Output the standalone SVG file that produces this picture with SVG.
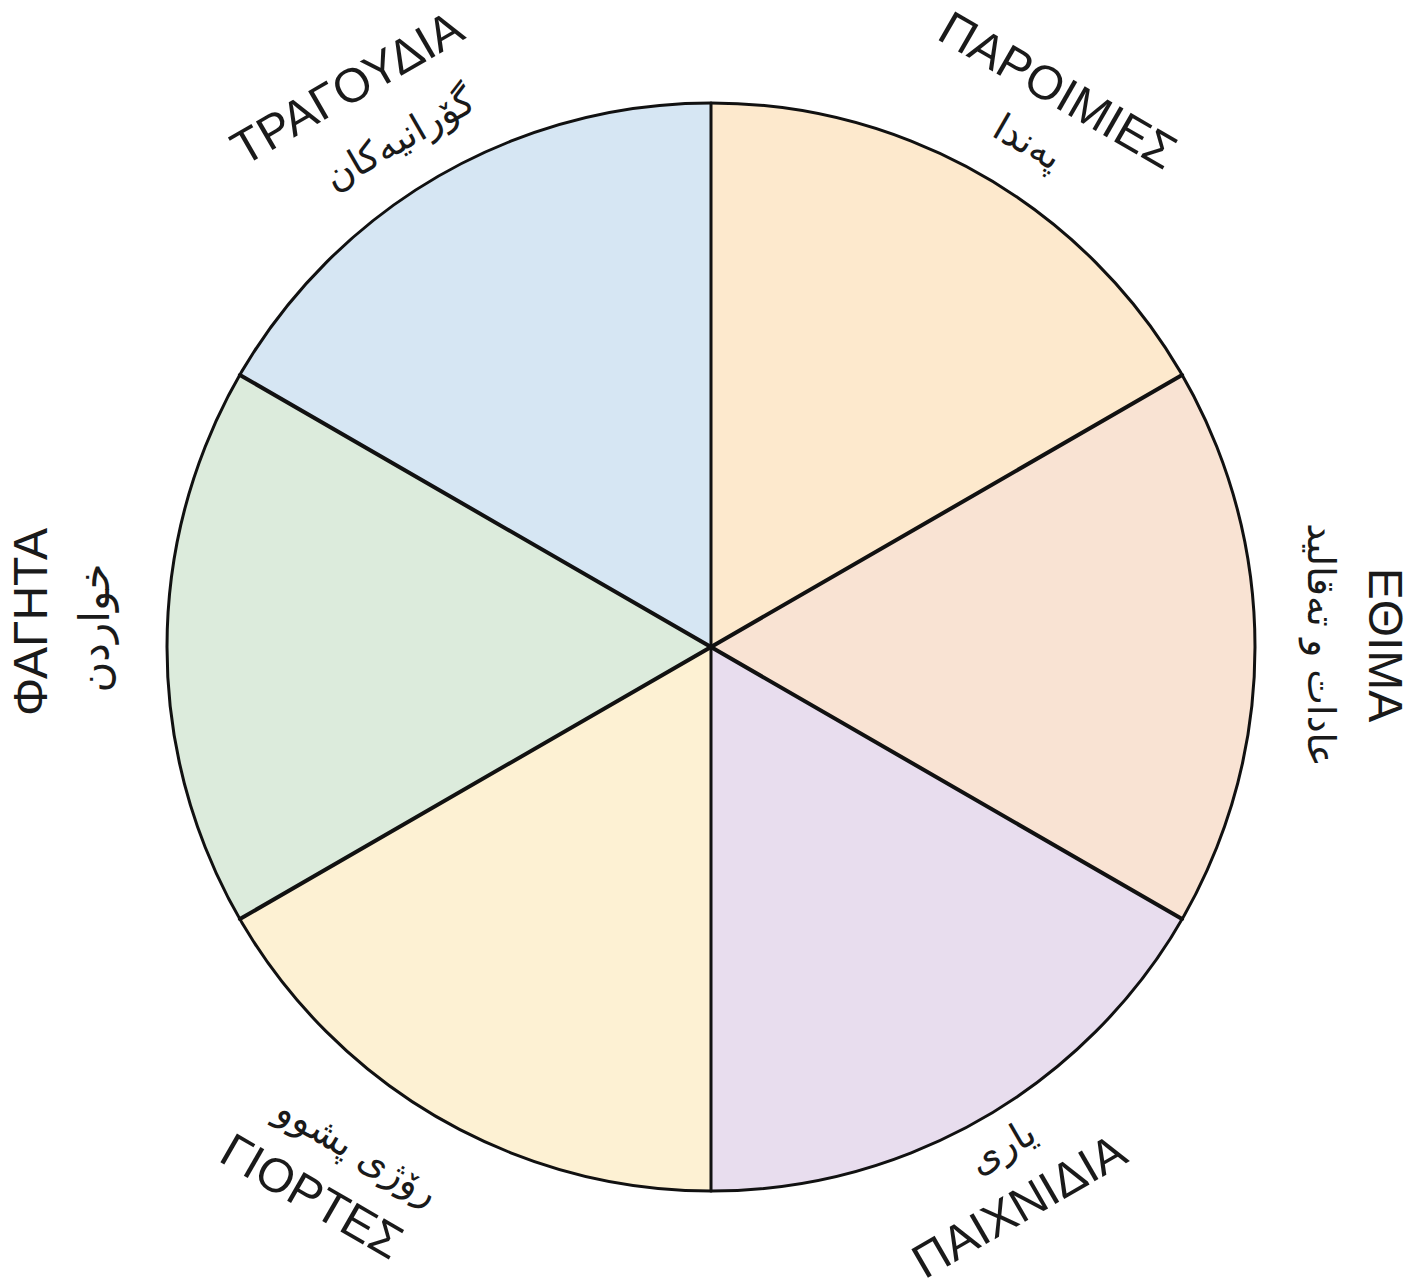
<svg xmlns="http://www.w3.org/2000/svg" width="1422" height="1286" viewBox="0 0 1422 1286">
<style>
.gr{font-family:"Liberation Sans",Arial,sans-serif;font-size:48px;fill:#1a1a1a;text-anchor:middle;dominant-baseline:central}
.ar{font-family:"DejaVu Sans","Noto Sans",sans-serif;font-size:38px;fill:#1a1a1a;text-anchor:middle;dominant-baseline:central}
.sec{stroke:none}
.div{stroke:#111;stroke-width:4;stroke-linecap:round}
</style>
<rect width="1422" height="1286" fill="#fff"/>
<g id="sector-paroimies">
<path class="sec" fill="#fde9cd" d="M711,647 L711,103 A544,544 0 0 1 1182.1,375 Z"/>
<g transform="translate(1058,90) rotate(30)"><text class="gr" x="0" y="0">ΠΑΡΟΙΜΙΕΣ</text><text class="ar" x="0" y="60">پەندا</text></g>
</g>
<g id="sector-ethima">
<path class="sec" fill="#f9e3d3" d="M711,647 L1182.1,375 A544,544 0 0 1 1182.1,919 Z"/>
<g transform="translate(1385,645) rotate(90)"><text class="gr" x="0" y="0">ΕΘΙΜΑ</text><text class="ar" x="0" y="64">عادات و تەقالید</text></g>
</g>
<g id="sector-paixnidia">
<path class="sec" fill="#e8ddee" d="M711,647 L1182.1,919 A544,544 0 0 1 711,1191 Z"/>
<g transform="translate(1019,1206) rotate(-30)"><text class="gr" x="0" y="0">ΠΑΙΧΝΙΔΙΑ</text><text class="ar" x="15" y="-60">یاری</text></g>
</g>
<g id="sector-giortes">
<path class="sec" fill="#fdf1d3" d="M711,647 L711,1191 A544,544 0 0 1 239.9,919 Z"/>
<g transform="translate(312,1196) rotate(30)"><text class="gr" x="0" y="0">ΓΙΟΡΤΕΣ</text><text class="ar" x="17" y="-62">رۆژی پشوو</text></g>
</g>
<g id="sector-fagita">
<path class="sec" fill="#dcebdc" d="M711,647 L239.9,919 A544,544 0 0 1 239.9,375 Z"/>
<g transform="translate(30,622) rotate(-90)"><text class="gr" x="0" y="0">ΦΑΓΗΤΑ</text><text class="ar" x="-6" y="64" style="font-size:42px">خواردن</text></g>
</g>
<g id="sector-tragoudia">
<path class="sec" fill="#d6e6f3" d="M711,647 L239.9,375 A544,544 0 0 1 711,103 Z"/>
<g transform="translate(347,88) rotate(-30)"><text class="gr" x="0" y="0">ΤΡΑΓΟΥΔΙΑ</text><text class="ar" x="20" y="70">گۆرانیەکان</text></g>
</g>
<g id="connectors">
<circle cx="711" cy="647" r="544" fill="none" stroke="#111" stroke-width="3"/>
<line class="div" x1="711" y1="103" x2="711" y2="1191" style="stroke-width:3"/>
<line class="div" x1="239.9" y1="375" x2="1182.1" y2="919"/>
<line class="div" x1="1182.1" y1="375" x2="239.9" y2="919"/>
</g>
</svg>
